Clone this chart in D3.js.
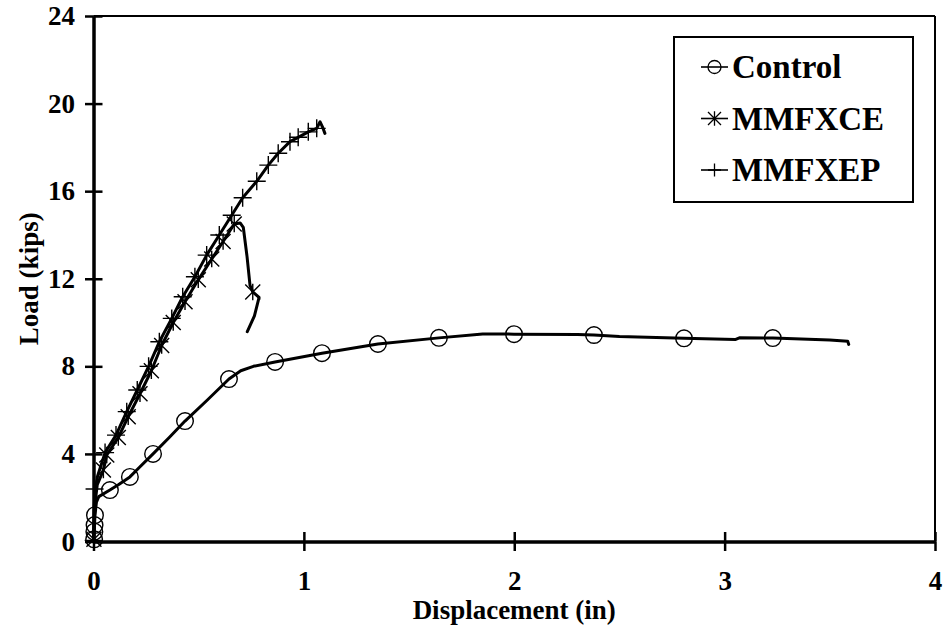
<!DOCTYPE html>
<html>
<head>
<meta charset="utf-8">
<script src="https://cdn.jsdelivr.net/npm/d3@7"></script>
<style>
  html, body { margin: 0; padding: 0; background: #fff; }
</style>
</head>
<body>
<svg id="chart" width="943" height="630"></svg>
<script>
// Load–displacement curves for three beam specimens
const xTicks = [0, 1, 2, 3, 4];
const yTicks = [0, 4, 8, 12, 16, 20, 24];
const seriesNames = ["Control", "MMFXCE", "MMFXEP"];

// Control specimen: traced curve and marker points [displacement (in), load (kips)]
const controlLine = [
  [0, 0], [0.003, 0.4], [0.007, 1.2], [0.014, 1.8], [0.025, 2.05], [0.078, 2.35],
  [0.12, 2.6], [0.173, 2.95], [0.22, 3.4], [0.283, 4.0], [0.36, 4.75], [0.435, 5.5],
  [0.54, 6.45], [0.644, 7.42], [0.7, 7.8], [0.76, 8.0], [0.863, 8.2], [1.086, 8.6],
  [1.352, 9.02], [1.642, 9.3], [1.85, 9.48], [1.999, 9.47], [2.3, 9.45], [2.379, 9.43],
  [2.5, 9.36], [2.807, 9.28], [3.05, 9.22], [3.07, 9.3], [3.229, 9.29], [3.5, 9.2],
  [3.585, 9.15], [3.59, 9.0]
];
const controlMarks = [
  [0.003, 0.1], [0.004, 0.45], [0.005, 0.75], [0.007, 1.2], [0.078, 2.35], [0.173, 2.95],
  [0.283, 4.0], [0.435, 5.5], [0.644, 7.42], [0.863, 8.2], [1.086, 8.6], [1.352, 9.02],
  [1.642, 9.3], [1.999, 9.47], [2.379, 9.43], [2.807, 9.28], [3.229, 9.29]
];

// MMFXCE specimen
const ceLine = [
  [0, 0], [0.003, 0.8], [0.008, 1.8], [0.018, 2.6], [0.047, 3.26], [0.063, 3.95],
  [0.118, 4.75], [0.165, 5.7], [0.221, 6.75], [0.275, 7.8], [0.324, 8.95], [0.379, 10.0],
  [0.435, 10.95], [0.498, 11.95], [0.562, 12.9], [0.616, 13.7], [0.669, 14.5],
  [0.697, 14.55], [0.712, 14.35], [0.73, 13.0], [0.744, 11.7], [0.757, 11.4],
  [0.787, 11.15], [0.765, 10.3], [0.731, 9.58]
];
const ceMarks = [
  [0.002, 0.1], [0.047, 3.26], [0.063, 3.95], [0.118, 4.75], [0.165, 5.7], [0.221, 6.75],
  [0.275, 7.8], [0.324, 8.95], [0.379, 10.0], [0.435, 10.95], [0.498, 11.95], [0.562, 12.9],
  [0.616, 13.7], [0.669, 14.5], [0.757, 11.4]
];

// MMFXEP specimen
const epLine = [
  [0, 0], [0.003, 1.5], [0.008, 2.4], [0.02, 3.0], [0.055, 4.06], [0.107, 4.86],
  [0.158, 5.93], [0.208, 6.92], [0.262, 8.0], [0.313, 9.12], [0.372, 10.19], [0.424, 11.18],
  [0.482, 12.09], [0.538, 13.08], [0.598, 14.0], [0.657, 14.9], [0.709, 15.7], [0.776, 16.45],
  [0.831, 17.19], [0.878, 17.73], [0.934, 18.26], [0.973, 18.46], [1.021, 18.71],
  [1.061, 18.87], [1.077, 19.17], [1.09, 18.9], [1.1, 18.64]
];
const epMarks = [
  [0.001, 0.05], [0.005, 2.4], [0.055, 4.06], [0.107, 4.86], [0.158, 5.93], [0.208, 6.92],
  [0.262, 8.0], [0.313, 9.12], [0.372, 10.19], [0.424, 11.18], [0.482, 12.09], [0.538, 13.08],
  [0.598, 14.0], [0.657, 14.9], [0.709, 15.7], [0.776, 16.45], [0.831, 17.19], [0.878, 17.73],
  [0.934, 18.26], [0.973, 18.46], [1.021, 18.71], [1.061, 18.87]
];

const FONT = "'Liberation Serif', Tinos, 'Times New Roman', Times, 'DejaVu Serif', 'Noto Serif', serif";

const svg = d3.select("#chart");
const plot = { left: 93.5, right: 935, top: 16, bottom: 541.5 };

const x = d3.scaleLinear().domain([0, 4]).range([plot.left, plot.right]);
const y = d3.scaleLinear().domain([0, 24]).range([plot.bottom, plot.top]);

// Marker shapes
const markerPath = {
  circle: r => `M${r},0A${r},${r} 0 1,1 ${-r},0A${r},${r} 0 1,1 ${r},0Z`,
  asterisk: s => `M${-s},${-s}L${s},${s}M${-s},${s}L${s},${-s}M0,${-s * 1.1}L0,${s * 1.1}`,
  plus: s => `M${-s},0L${s},0M0,${-s}L0,${s}`
};

const series = [
  { name: seriesNames[0], line: controlLine, marks: controlMarks, shape: "circle", size: 8.3 },
  { name: seriesNames[1], line: ceLine, marks: ceMarks, shape: "asterisk", size: 7.5 },
  { name: seriesNames[2], line: epLine, marks: epMarks, shape: "plus", size: 9 }
];

function styleText(sel, size) {
  sel.attr("font-family", FONT).style("font-family", FONT)
    .style("font-weight", "bold").style("font-size", size + "px").attr("fill", "#000");
}

// Plot frame: top and right edges
svg.append("line").attr("x1", plot.left).attr("x2", plot.right)
  .attr("y1", plot.top).attr("y2", plot.top).attr("stroke", "#000").attr("stroke-width", 2);
svg.append("line").attr("x1", plot.right).attr("x2", plot.right)
  .attr("y1", plot.top).attr("y2", plot.bottom).attr("stroke", "#000").attr("stroke-width", 2);

// Axes with ticks that cross the axis line
const tickLen = 9.5;
const gx = svg.append("g").attr("transform", `translate(0,${plot.bottom})`)
  .call(d3.axisBottom(x).tickValues(xTicks).tickSizeInner(tickLen).tickSizeOuter(0).tickPadding(23).tickFormat(d3.format("d")));
svg.append("g").attr("transform", `translate(0,${plot.bottom})`)
  .call(d3.axisTop(x).tickValues(xTicks).tickSizeInner(tickLen).tickSizeOuter(0).tickFormat(""));
const gy = svg.append("g").attr("transform", `translate(${plot.left},0)`)
  .call(d3.axisLeft(y).tickValues(yTicks).tickSizeInner(8.5).tickSizeOuter(0).tickPadding(10).tickFormat(d3.format("d")));
svg.append("g").attr("transform", `translate(${plot.left},0)`)
  .call(d3.axisRight(y).tickValues(yTicks).tickSizeInner(9).tickSizeOuter(0).tickFormat(""));

svg.selectAll(".domain").attr("stroke", "#000").attr("stroke-width", 3);
svg.selectAll(".tick line").attr("stroke", "#000").attr("stroke-width", 2.5);
styleText(svg.selectAll(".tick text"), 27);
gx.selectAll(".tick text").attr("dy", "0.6em");

// Axis titles
styleText(svg.append("text").attr("x", (plot.left + plot.right) / 2).attr("y", 619)
  .attr("text-anchor", "middle").text("Displacement (in)"), 27);
styleText(svg.append("text").attr("transform", `translate(38,${(plot.top + plot.bottom) / 2}) rotate(-90)`)
  .attr("text-anchor", "middle").text("Load (kips)"), 27);

// Curves
const line = d3.line().x(d => x(d[0])).y(d => y(d[1]));
const curves = svg.append("g");
series.forEach(s => {
  curves.append("path").datum(s.line).attr("d", line)
    .attr("fill", "none").attr("stroke", "#000").attr("stroke-width", 3)
    .attr("stroke-linejoin", "round").attr("stroke-linecap", "round");
});
series.forEach(s => {
  curves.append("g").selectAll("path").data(s.marks).join("path")
    .attr("transform", d => `translate(${x(d[0])},${y(d[1])})`)
    .attr("d", markerPath[s.shape](s.size))
    .attr("fill", "none").attr("stroke", "#000").attr("stroke-width", 1.4);
});

// Legend
const legend = svg.append("g");
legend.append("rect").attr("x", 674).attr("y", 37).attr("width", 239).attr("height", 165)
  .attr("fill", "#fff").attr("stroke", "#000").attr("stroke-width", 2);
series.forEach((s, i) => {
  const cy = 67 + i * 51.5;
  const g = legend.append("g").attr("transform", `translate(0,${cy})`);
  g.append("line").attr("x1", 701).attr("x2", 728).attr("y1", 0).attr("y2", 0)
    .attr("stroke", "#000").attr("stroke-width", 1.6);
  g.append("path").attr("transform", "translate(714.5,0)")
    .attr("d", markerPath[s.shape](6.5)).attr("fill", "none").attr("stroke", "#000").attr("stroke-width", 1.3);
  styleText(g.append("text").attr("x", 732).attr("y", 11).text(s.name), 33);
});
</script>
</body>
</html>
